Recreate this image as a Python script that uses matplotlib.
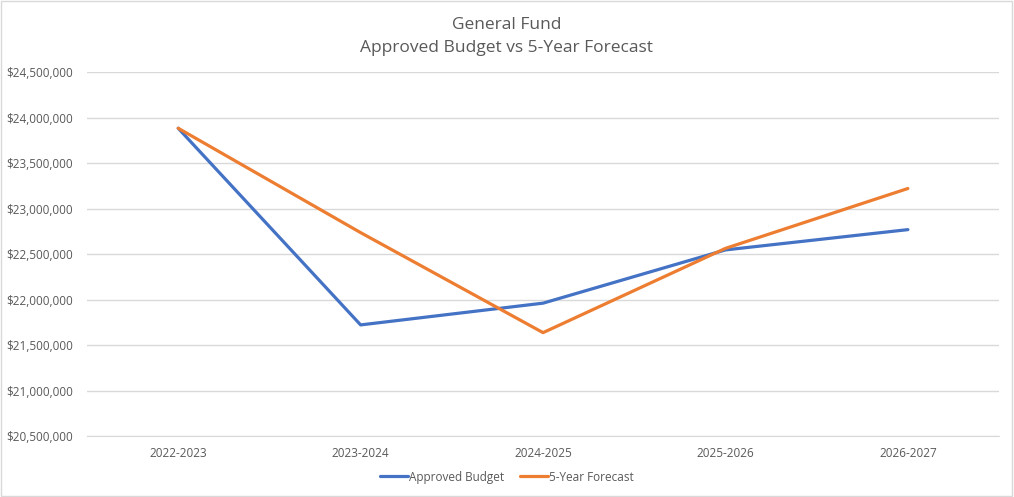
import matplotlib.pyplot as plt
from matplotlib.ticker import FuncFormatter

years = ["2022-2023", "2023-2024", "2024-2025", "2025-2026", "2026-2027"]
approved = [23882000, 21721000, 21960000, 22545000, 22768000]
forecast = [23882000, 22735000, 21636000, 22562000, 23220000]

plt.rcParams['font.family'] = ['Open Sans', 'DejaVu Sans']
text_col = "#595959"

fig = plt.figure(figsize=(10.14, 4.97), dpi=100)
ax = fig.add_axes([0.0858, 0.1227, 0.8995, 0.7324])

x = range(len(years))
ax.plot(x, approved, color="#4472C4", linewidth=2.3, label="Approved Budget", solid_capstyle="round")
ax.plot(x, forecast, color="#ED7D31", linewidth=2.3, label="5-Year Forecast", solid_capstyle="round")

ax.set_xlim(-0.5, len(years) - 0.5)
ax.set_ylim(20500000, 24500000)
ax.set_yticks(range(20500000, 24500001, 500000))
ax.yaxis.set_major_formatter(FuncFormatter(lambda v, p: "${:,.0f}".format(v)))
ax.set_xticks(list(x))
ax.set_xticklabels(years)
ax.grid(axis="y", color="#D9D9D9", linewidth=1)
ax.set_axisbelow(True)
for s in ["top", "right", "left"]:
    ax.spines[s].set_visible(False)
ax.spines["bottom"].set_color("#D9D9D9")
ax.tick_params(axis="both", length=0, labelsize=8.5, colors=text_col, pad=8)
ax.tick_params(axis="y", pad=10)

fig.text(0.5, 0.949, "General Fund", ha="center", va="center", fontsize=12.5, color=text_col)
fig.text(0.5, 0.904, "Approved Budget vs 5-Year Forecast", ha="center", va="center", fontsize=12.5, color=text_col)

fig.legend(loc="center", bbox_to_anchor=(0.5, 0.04), ncol=2, frameon=False, fontsize=8.5,
           labelcolor=text_col, handlelength=2.4, handletextpad=0.1, columnspacing=1.3)

border = plt.Rectangle((0.001, 0.002), 0.997, 0.996, transform=fig.transFigure, fill=False,
                       edgecolor="#D9D9D9", linewidth=1)
fig.patches.append(border)

fig.savefig("out.png", dpi=100)
